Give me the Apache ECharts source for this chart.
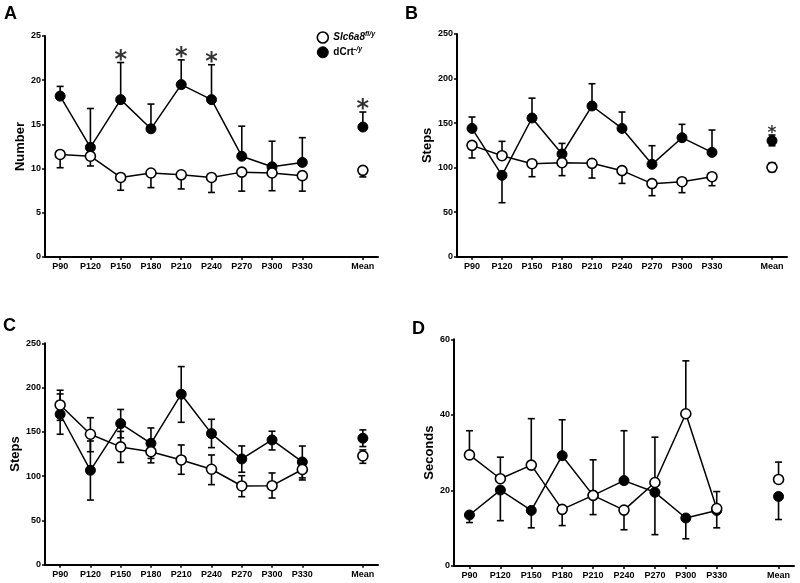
<!DOCTYPE html>
<html>
<head>
<meta charset="utf-8">
<script src="https://cdn.jsdelivr.net/npm/echarts@6/dist/echarts.min.js"></script>
<style>html,body{margin:0;padding:0;background:#fff}#c{width:800px;height:583px}</style>
</head>
<body>
<div id="c"></div>
<script>
const categories = ['P90','P120','P150','P180','P210','P240','P270','P300','P330','','Mean'];
const seriesNames = ['Slc6a8', 'dCrt'];

// Panel A (Number)
const aOpen     = [11.6, 11.4, 9.0, 9.5, 9.3, 9.0, 9.6, 9.5, 9.2, null, 9.8];
const aOpenLo   = [10.1, 10.3, 7.55, 7.85, 7.7, 7.3, 7.45, 7.5, 7.45, null, 9.06];
const aOpenHi   = [null, null, null, null, null, null, null, null, null, null, null];
const aFilled   = [18.2, 12.4, 17.8, 14.5, 19.5, 17.8, 11.4, 10.2, 10.7, null, 14.7];
const aFilledLo = [null, null, null, null, null, null, null, null, null, null, null];
const aFilledHi = [19.3, 16.8, 22.0, 17.3, 22.3, 21.75, 14.8, 13.1, 13.5, null, 16.4];
const aStars    = ['P150', 'P210', 'P240', 'Mean'];

// Panel B (Steps)
const bOpen     = [125, 113.4, 104.4, 105.5, 104.8, 96.6, 82, 84.2, 89.8, null, 100.3];
const bOpenLo   = [110.8, null, 89.8, 91, 88.3, 82.3, 68.5, 71.9, 79.7, null, 95.5];
const bOpenHi   = [null, 129.5, null, null, null, null, null, null, null, null, 105.5];
const bFilled   = [144, 91.3, 155.7, 115.3, 169.2, 144, 103.7, 133.6, 117.1, null, 130.2];
const bFilledLo = [null, 60.6, null, null, null, null, null, null, null, null, 124.5];
const bFilledHi = [156.8, null, 178, 127.2, 194.2, 162.4, 124.6, 148.6, 142.2, null, 136.6];
const bStars    = ['Mean'];

// Panel C (Steps)
const cOpen     = [180.4, 147.3, 133, 127.6, 118.3, 107.8, 88.9, 89.2, 107.5, null, 122.8];
const cOpenLo   = [163, 127.6, 115.5, 115, 102.1, 90.4, 76.8, 75.3, 95.7, null, 114.5];
const cOpenHi   = [197, 166, 150.5, 140, 135.2, 123.9, 100.5, 103.6, 119, null, 129.6];
const cFilled   = [169.9, 106.6, 159.3, 137, 192.5, 148, 119.4, 140.9, 116, null, 142.8];
const cFilledLo = [147.3, 73, 143.3, 120, 160.8, 132.2, 104.4, 129.6, 98, null, 133.4];
const cFilledHi = [192.8, 139.7, 175.3, 154.4, 223.7, 164.2, 134.1, 150.7, 134, null, 152.2];

// Panel D (Seconds)
const dOpen     = [29.4, 23.1, 26.7, 15.0, 18.7, 14.8, 22.1, 40.3, 15.2, null, 22.9];
const dOpenLo   = [null, null, null, 10.7, null, 9.6, null, null, null, null, null];
const dOpenHi   = [35.8, 28.8, 39.0, null, 28.1, null, 34.1, 54.3, 19.7, null, 27.5];
const dFilled   = [13.5, 20.1, 14.7, 29.2, 18.7, 22.6, 19.5, 12.7, 14.7, null, 18.4];
const dFilledLo = [11.5, 12.0, 10.1, null, 13.6, null, 8.3, 7.2, 10.1, null, 12.3];
const dFilledHi = [null, null, null, 38.7, null, 35.8, null, null, null, null, null];

const yAxes = [
  {name: 'Number', max: 25, interval: 5},
  {name: 'Steps', max: 250, interval: 50},
  {name: 'Steps', max: 250, interval: 50},
  {name: 'Seconds', max: 60, interval: 20}
];
const panelLetters = ['A', 'B', 'C', 'D'];

const FONT = 'Liberation Sans, Arial, sans-serif';
const grids = [
  {left: 45, top: 36, width: 333, height: 221},
  {left: 457, top: 34, width: 330, height: 222.7},
  {left: 45, top: 343.3, width: 333, height: 221.4},
  {left: 454, top: 339.3, width: 340, height: 226.7}
];
const nameGaps = [14.5, 18.5, 20, 16.5];
const letterPos = [[4, 5], [405, 5], [3, 317], [412, 320.5]];

const panels = [
  {open: aOpen, openLo: aOpenLo, openHi: aOpenHi, filled: aFilled, filledLo: aFilledLo, filledHi: aFilledHi, stars: aStars, starSize: 24, starDist: -10},
  {open: bOpen, openLo: bOpenLo, openHi: bOpenHi, filled: bFilled, filledLo: bFilledLo, filledHi: bFilledHi, stars: bStars, starSize: 17, starDist: -7},
  {open: cOpen, openLo: cOpenLo, openHi: cOpenHi, filled: cFilled, filledLo: cFilledLo, filledHi: cFilledHi, stars: [], starSize: 0, starDist: 0},
  {open: dOpen, openLo: dOpenLo, openHi: dOpenHi, filled: dFilled, filledLo: dFilledLo, filledHi: dFilledHi, stars: [], starSize: 0, starDist: 0}
];

function errData(vals, lo, hi) {
  const out = [];
  vals.forEach((v, i) => {
    if (v == null) return;
    if (hi[i] != null) out.push([i, v, hi[i]]);
    if (lo[i] != null) out.push([i, v, lo[i]]);
  });
  return out;
}

function renderErr(params, api) {
  const x = api.value(0);
  const p0 = api.coord([x, api.value(1)]);
  const p1 = api.coord([x, api.value(2)]);
  const hw = 3.5;
  const st = {stroke: '#000', lineWidth: 1.6};
  return {
    type: 'group',
    children: [
      {type: 'line', shape: {x1: p0[0], y1: p0[1], x2: p1[0], y2: p1[1]}, style: st},
      {type: 'line', shape: {x1: p1[0] - hw, y1: p1[1], x2: p1[0] + hw, y2: p1[1]}, style: st}
    ]
  };
}

const axisLabelStyle = {fontFamily: FONT, fontWeight: 'bold', fontSize: 9, color: '#000'};
const xAxis = [], yAxis = [], series = [];

grids.forEach((g, k) => {
  xAxis.push({
    type: 'category', gridIndex: k, data: categories, boundaryGap: true,
    axisLine: {lineStyle: {color: '#000', width: 2}},
    axisTick: {show: true, alignWithLabel: true, length: 3, lineStyle: {color: '#000', width: 1.5},
      interval: (i, v) => v !== ''},
    axisLabel: Object.assign({margin: 5, interval: 0}, axisLabelStyle),
    splitLine: {show: false}
  });
  yAxis.push({
    type: 'value', gridIndex: k, min: 0, max: yAxes[k].max, interval: yAxes[k].interval,
    name: yAxes[k].name, nameLocation: 'middle', nameGap: nameGaps[k],
    nameTextStyle: {fontFamily: FONT, fontWeight: 'bold', fontSize: 13, color: '#000'},
    axisLine: {show: true, lineStyle: {color: '#000', width: 2}},
    axisTick: {show: true, length: 3, lineStyle: {color: '#000', width: 1.5}},
    axisLabel: Object.assign({margin: 4}, axisLabelStyle),
    splitLine: {show: false}
  });
  const p = panels[k];
  series.push({
    type: 'custom', xAxisIndex: k, yAxisIndex: k, z: 1, silent: true,
    renderItem: renderErr,
    data: errData(p.open, p.openLo, p.openHi).concat(errData(p.filled, p.filledLo, p.filledHi))
  });
  series.push({
    name: seriesNames[1], type: 'line', xAxisIndex: k, yAxisIndex: k, z: 3,
    data: p.filled, connectNulls: false, symbol: 'circle', symbolSize: 10, showSymbol: true,
    lineStyle: {color: '#000', width: 1.5},
    itemStyle: {color: '#000', borderColor: '#000', borderWidth: 1}
  });
  series.push({
    name: seriesNames[0], type: 'line', xAxisIndex: k, yAxisIndex: k, z: 4,
    data: p.open, connectNulls: false, symbol: 'circle', symbolSize: 10, showSymbol: true,
    lineStyle: {color: '#000', width: 1.5},
    itemStyle: {color: '#fff', borderColor: '#000', borderWidth: 1.6}
  });
  if (p.stars.length) {
    series.push({
      type: 'scatter', xAxisIndex: k, yAxisIndex: k, z: 5, silent: true,
      symbol: 'circle', symbolSize: 0,
      data: p.stars.map(c => { const i = categories.indexOf(c); return [i, p.filledHi[i]]; }),
      label: {show: true, formatter: '*', position: 'top', distance: p.starDist,
        fontFamily: 'DejaVu Sans', fontWeight: 'bold', fontSize: p.starSize, color: '#000'}
    });
  }
});

const option = {
  animation: false,
  backgroundColor: '#fff',
  title: panelLetters.map((t, k) => ({
    text: t, left: letterPos[k][0], top: letterPos[k][1], padding: 0,
    textStyle: {fontFamily: FONT, fontWeight: 'bold', fontSize: 18, color: '#000'}
  })),
  legend: {
    orient: 'vertical', left: 316.5, top: 31, padding: 0, itemWidth: 11, itemHeight: 11, itemGap: 2,
    data: [
      {name: 'Slc6a8', icon: 'circle', itemStyle: {color: '#fff', borderColor: '#000', borderWidth: 1.6}},
      {name: 'dCrt', icon: 'circle', itemStyle: {color: '#000', borderColor: '#000', borderWidth: 1}}
    ],
    formatter: n => n === 'Slc6a8' ? '{i|Slc6a8}{s|fl/y}' : '{b|dCrt}{s|-/y}',
    textStyle: {
      fontFamily: FONT, fontWeight: 'bold', fontSize: 10, color: '#000',
      rich: {
        i: {fontFamily: FONT, fontWeight: 'bold', fontStyle: 'italic', fontSize: 10, color: '#000'},
        b: {fontFamily: FONT, fontWeight: 'bold', fontSize: 10, color: '#000'},
        s: {fontFamily: FONT, fontWeight: 'bold', fontStyle: 'italic', fontSize: 7, color: '#000', padding: [0, 0, 6, 0]}
      }
    }
  },
  grid: grids,
  xAxis: xAxis,
  yAxis: yAxis,
  series: series
};

const chart = echarts.init(document.getElementById('c'), null, {renderer: 'canvas'});
chart.setOption(option);
</script>
</body>
</html>
